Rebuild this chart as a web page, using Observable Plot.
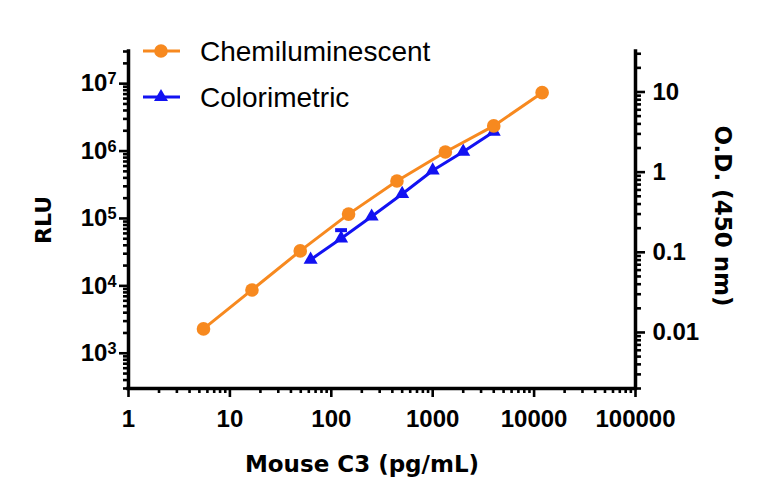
<!DOCTYPE html>
<html><head><meta charset="utf-8">
<script src="https://cdn.jsdelivr.net/npm/d3@7"></script>
<script src="https://cdn.jsdelivr.net/npm/@observablehq/plot@0.6"></script>
<style>
body{margin:0;background:#fff;}
#wrap{position:relative;width:768px;height:504px;}
#legend{position:absolute;left:0;top:0;}
</style></head><body><div id="wrap"></div>
<script>
// ---- data ----
const chemConc = [5.49, 16.5, 49.4, 148, 444, 1333, 4000, 12000];
const chemRLU = [2300, 8700, 33000, 116000, 360000, 970000, 2360000, 7350000];
const colorConc = [62.5, 125, 250, 500, 1000, 2000, 4000];
const colorOD = [0.081, 0.149, 0.28, 0.535, 1.05, 1.8, 3.2];
const colorSD = [0, 0.04, 0, 0, 0, 0, 0];
const xTicks = [1, 10, 100, 1000, 10000, 100000];
const rluTicks = [1e3, 1e4, 1e5, 1e6, 1e7];
const odTicks = [0.01, 0.1, 1, 10];
const odTickLabels = ["0.01", "0.1", "1", "10"];
const xDomain = [1, 100000];
const rluDomain = [300, 3e7];
const odDomain = [0.002, 32];
const seriesNames = ["Chemiluminescent", "Colorimetric"];
const seriesColors = ["#f7891f", "#1212f2"];
const xTitle = "Mouse C3 (pg/mL)";
const yTitle = "RLU";
const y2Title = "O.D. (450 nm)";

// ---- helpers ----
const L = Math.log10;
function odToRlu(v) {
  const t = (L(v) - L(odDomain[0])) / (L(odDomain[1]) - L(odDomain[0]));
  return Math.pow(10, L(rluDomain[0]) + t * (L(rluDomain[1]) - L(rluDomain[0])));
}
function minorTicks(lo, hi) {
  const out = [];
  for (let e = Math.floor(L(lo)); e <= Math.ceil(L(hi)); e++) {
    for (let m = 2; m <= 9; m++) {
      const v = m * Math.pow(10, e);
      if (v >= lo * 0.999 && v <= hi * 1.001) out.push(v);
    }
  }
  return out;
}
const odMajorPos = odTicks.map(odToRlu);
const odLabels = odTicks.map((t, i) => ({pos: odMajorPos[i], label: odTickLabels[i]}));
const chem = chemConc.map((c, i) => ({c, v: chemRLU[i]}));
const color = colorConc.map((c, i) => ({c, v: odToRlu(colorOD[i]), hi: odToRlu(colorOD[i] + colorSD[i]), sd: colorSD[i]}));
const odMinorPos = minorTicks(odDomain[0], odDomain[1]).map(odToRlu);

const tickFont = "'Liberation Sans Narrow','Arial Narrow','Liberation Sans',sans-serif";
const titleFont = "'DejaVu Sans',sans-serif";
const AW = 2.6;

const plot = Plot.plot({
  width: 768, height: 504,
  marginLeft: 128, marginRight: 133, marginTop: 51, marginBottom: 116,
  x: {type: "log", domain: xDomain, label: null},
  y: {type: "log", domain: rluDomain, label: null},
  style: {background: "#fff", color: "#000"},
  marks: [
    // minor ticks
    Plot.axisX({ticks: minorTicks(xDomain[0], xDomain[1]), tickSize: 5, tickFormat: () => "", strokeWidth: AW}),
    Plot.axisY({ticks: minorTicks(rluDomain[0], rluDomain[1]), tickSize: 5, tickFormat: () => "", strokeWidth: AW}),
    Plot.axisY({anchor: "right", ticks: odMinorPos, tickSize: 5, tickFormat: () => "", strokeWidth: AW}),
    // major ticks
    Plot.axisX({ticks: xTicks, tickSize: 9, tickPadding: 12, tickFormat: d => String(d), strokeWidth: AW,
      fontSize: 24, fontWeight: "bold", fontFamily: tickFont}),
    Plot.axisY({ticks: rluTicks, tickSize: 9, tickPadding: 3, tickFormat: d => "10^" + Math.round(L(d)), strokeWidth: AW,
      fontSize: 24, fontWeight: "bold", fontFamily: tickFont, className: "rlu-major"}),
    Plot.axisY({anchor: "right", ticks: odMajorPos, tickSize: 9, tickFormat: () => "", strokeWidth: AW}),
    Plot.text(odLabels, {y: "pos", text: "label", frameAnchor: "right", dx: 17, textAnchor: "start", lineAnchor: "middle",
      fontSize: 24, fontWeight: "bold", fontFamily: tickFont}),
    // axis lines
    Plot.ruleX([xDomain[0]], {strokeWidth: 3.5, strokeLinecap: "square"}),
    Plot.ruleX([xDomain[1]], {strokeWidth: 3.5, strokeLinecap: "square"}),
    Plot.ruleY([rluDomain[0]], {strokeWidth: 3.5, strokeLinecap: "square"}),
    // colorimetric
    Plot.link(color.filter(d => d.sd > 0), {x1: "c", x2: "c", y1: "v", y2: "hi", stroke: seriesColors[1], strokeWidth: 2, markerEnd: "tick"}),
    Plot.line(color, {x: "c", y: "v", stroke: seriesColors[1], strokeWidth: 3}),
    Plot.dot(color, {x: "c", y: "v", symbol: "triangle", r: 5.2, fill: seriesColors[1], stroke: "none"}),
    // chemiluminescent
    Plot.line(chem, {x: "c", y: "v", stroke: seriesColors[0], strokeWidth: 3}),
    Plot.dot(chem, {x: "c", y: "v", r: 6.8, fill: seriesColors[0], stroke: "none"}),
    // titles
    Plot.text([xTitle], {frameAnchor: "bottom", dx: -20, dy: 76, lineAnchor: "middle", textAnchor: "middle", fontSize: 23, fontWeight: "bold", fontFamily: titleFont}),
    Plot.text([yTitle], {frameAnchor: "left", dx: -85, dy: 0, rotate: -90, lineAnchor: "middle", textAnchor: "middle", fontSize: 22, fontWeight: "bold", fontFamily: titleFont}),
    Plot.text([y2Title], {frameAnchor: "right", dx: 87, dy: -4, rotate: 90, lineAnchor: "middle", textAnchor: "middle", fontSize: 23, fontWeight: "bold", fontFamily: titleFont})
  ]
});
const wrap = document.getElementById("wrap");
wrap.appendChild(plot);

// superscript exponents on RLU tick labels
d3.select(plot).selectAll(".rlu-major text").each(function() {
  const t = d3.select(this);
  const parts = t.text().split("^");
  if (parts.length !== 2) return;
  t.text(parts[0]);
  t.append("tspan").attr("dy", "-0.42em").attr("font-size", "0.68em").text(parts[1]);
});

// ---- legend (overlay) ----
const leg = d3.select(wrap).append("svg").attr("id", "legend").attr("width", 460).attr("height", 120);
const rows = [{y: 51, sym: d3.symbolCircle, size: Math.PI * 6.8 * 6.8}, {y: 97, sym: d3.symbolTriangle, size: Math.PI * 5.2 * 5.2}];
seriesNames.forEach((name, i) => {
  const g = leg.append("g").attr("transform", `translate(0,${rows[i].y})`);
  g.append("line").attr("x1", 143).attr("x2", 180).attr("stroke", seriesColors[i]).attr("stroke-width", 3);
  g.append("path").attr("d", d3.symbol(rows[i].sym, rows[i].size)()).attr("transform", "translate(161,0)").attr("fill", seriesColors[i]);
  g.append("text").attr("x", 200).attr("dy", "0.35em").attr("font-family", "'Liberation Sans',Arial,sans-serif").attr("font-size", 28).text(name);
});
</script></body></html>
